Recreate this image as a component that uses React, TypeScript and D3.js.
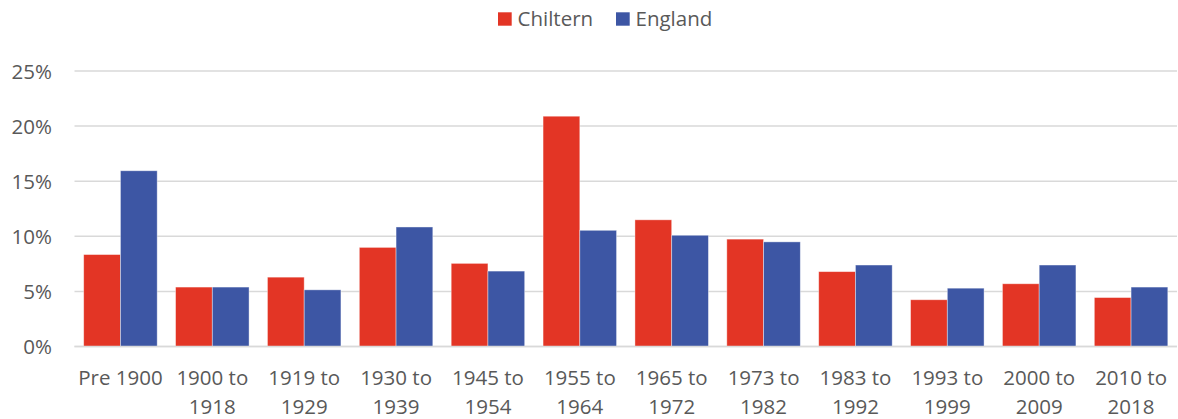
import React, { useEffect, useRef } from "react";
import * as d3 from "d3";

const categories = [
  ["Pre 1900"],
  ["1900 to", "1918"],
  ["1919 to", "1929"],
  ["1930 to", "1939"],
  ["1945 to", "1954"],
  ["1955 to", "1964"],
  ["1965 to", "1972"],
  ["1973 to", "1982"],
  ["1983 to", "1992"],
  ["1993 to", "1999"],
  ["2000 to", "2009"],
  ["2010 to", "2018"],
];
const chiltern = [8.35, 5.4, 6.3, 9.0, 7.55, 20.9, 11.5, 9.75, 6.8, 4.25, 5.7, 4.45];
const england = [15.95, 5.4, 5.15, 10.85, 6.85, 10.55, 10.1, 9.5, 7.4, 5.3, 7.4, 5.4];
const seriesNames = ["Chiltern", "England"];
const seriesColors = ["#E33525", "#3D56A4"];
const yTicks = [0, 5, 10, 15, 20, 25];

const W = 1178;
const H = 419;
const FONT = "'Open Sans', sans-serif";

const App = () => {
  const svgRef = useRef<SVGSVGElement>(null);

  useEffect(() => {
    const svg = d3.select(svgRef.current);
    svg.selectAll("*").remove();

    const margin = { top: 71, right: 1, bottom: 72, left: 74.5 };
    const innerBottom = H - margin.bottom;

    const keys = categories.map((c) => c.join(" "));
    const x = d3
      .scaleBand()
      .domain(keys)
      .range([margin.left, W - margin.right])
      .paddingInner(0.2)
      .paddingOuter(0.1);
    const xs = d3.scaleBand().domain(seriesNames).range([0, x.bandwidth()]);
    const y = d3.scaleLinear().domain([0, 25]).range([346.6, margin.top]);

    // gridlines
    svg
      .append("g")
      .selectAll("line")
      .data(yTicks)
      .join("line")
      .attr("x1", margin.left)
      .attr("x2", W - margin.right)
      .attr("y1", (d) => y(d))
      .attr("y2", (d) => y(d))
      .attr("stroke", "#d9d9d9")
      .attr("stroke-width", 1.5);

    // y labels
    svg
      .append("g")
      .selectAll("text")
      .data(yTicks)
      .join("text")
      .attr("x", 52)
      .attr("y", (d) => y(d) + 7.5)
      .attr("text-anchor", "end")
      .attr("fill", "#595959")
      .style("font-family", FONT)
      .style("font-size", "20.5px")
      .text((d) => d + "%");

    // bars
    const rows = keys.map((k, i) => ({ key: k, values: [chiltern[i], england[i]] }));
    svg
      .append("g")
      .selectAll("g")
      .data(rows)
      .join("g")
      .attr("transform", (d) => `translate(${x(d.key)},0)`)
      .selectAll("rect")
      .data((d) => d.values.map((v, j) => ({ v, s: seriesNames[j], j })))
      .join("rect")
      .attr("x", (d) => xs(d.s)!)
      .attr("width", xs.bandwidth())
      .attr("y", (d) => y(d.v))
      .attr("height", (d) => y(0) - y(d.v))
      .attr("fill", (d) => seriesColors[d.j])
      .attr("stroke", "#ffffff")
      .attr("stroke-opacity", 0.5)
      .attr("stroke-width", 0.8);

    // redraw baseline on top
    svg
      .append("line")
      .attr("x1", margin.left)
      .attr("x2", W - margin.right)
      .attr("y1", y(0))
      .attr("y2", y(0))
      .attr("stroke", "#d9d9d9")
      .attr("stroke-width", 1.5);

    // x labels
    const xl = svg
      .append("g")
      .selectAll("text")
      .data(categories)
      .join("text")
      .attr("x", (d) => x(d.join(" "))! + x.bandwidth() / 2)
      .attr("y", 385)
      .attr("text-anchor", "middle")
      .attr("fill", "#595959")
      .style("font-family", FONT)
      .style("font-size", "20.5px");
    xl.selectAll("tspan")
      .data((d) => d)
      .join("tspan")
      .attr("x", function () {
        return (this.parentNode as SVGTextElement).getAttribute("x");
      })
      .attr("dy", (_d, i) => (i === 0 ? 0 : 28.5))
      .text((d) => d);

    // legend
    const legendX = [498, 616];
    const lg = svg
      .append("g")
      .selectAll("g")
      .data(seriesNames)
      .join("g")
      .attr("transform", (_d, i) => `translate(${legendX[i]},0)`);
    lg.append("rect")
      .attr("x", 0)
      .attr("y", 12.3)
      .attr("width", 13.7)
      .attr("height", 13.4)
      .attr("fill", (_d, i) => seriesColors[i]);
    lg.append("text")
      .attr("x", 19.5)
      .attr("y", 26)
      .attr("fill", "#595959")
      .style("font-family", FONT)
      .style("font-size", "20.5px")
      .text((d) => d);
  }, []);

  return (
    <div style={{ position: "absolute", left: 0, top: 0, width: W, height: H }}>
      <svg ref={svgRef} width={W} height={H} style={{ display: "block", background: "#fff" }}></svg>
    </div>
  );
};

export default App;
